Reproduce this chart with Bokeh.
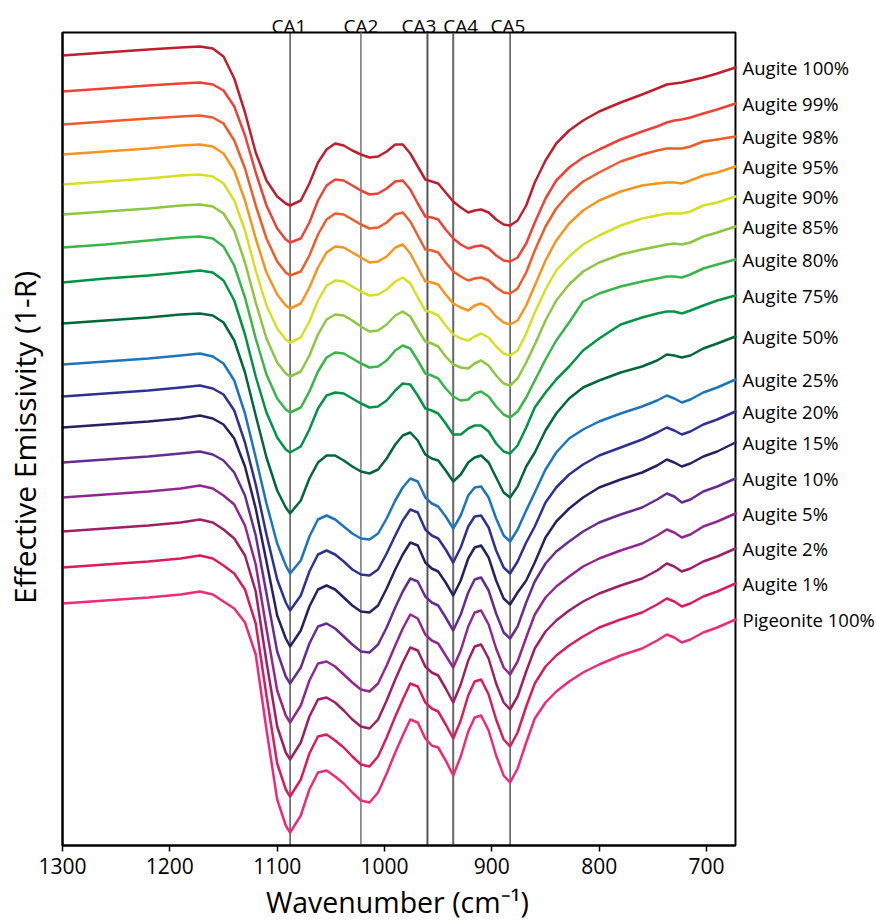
import math
from bokeh.plotting import figure
from bokeh.models import Range1d, FixedTicker, ColumnDataSource
from bokeh.core.properties import value
from bokeh.embed import file_html
from bokeh.resources import INLINE

# ---------------- data ----------------
wavenumber = [1300, 1260, 1220, 1190, 1172, 1160, 1150, 1140, 1130, 1120,
              1110, 1100, 1092, 1088, 1078, 1070, 1062, 1054, 1046, 1038,
              1030, 1022, 1014, 1006, 998, 990, 983, 976, 969, 962,
              956, 950, 943, 936, 929, 922, 916, 910, 903, 896,
              889, 883, 876, 868, 860, 850, 840, 828, 815, 800,
              780, 760, 746, 737, 730, 723, 715, 703, 690, 673]

# offset effective emissivity (arbitrary stacked units)
augite_100 = [790, 793, 796, 798, 799, 797, 789, 767, 733, 693,
              665, 649, 642, 640, 645, 662, 683, 696, 702, 700,
              695, 691, 688, 689, 694, 701, 701, 692, 679, 666,
              664, 662, 653, 644, 638, 633, 635, 636, 633, 626,
              621, 620, 625, 640, 663, 685, 702, 715, 725, 734,
              743, 751, 757, 761, 762, 763, 765, 768, 772, 778]
augite_99 = [754, 757, 760, 762, 763, 761, 755, 739, 710, 673,
             640, 617, 606, 603, 607, 623, 645, 660, 666, 665,
             660, 655, 651, 652, 657, 664, 665, 656, 642, 629,
             628, 626, 616, 607, 601, 597, 599, 600, 597, 590,
             585, 584, 588, 602, 623, 647, 665, 678, 688, 696,
             706, 714, 719, 723, 725, 726, 728, 732, 736, 742]
augite_98 = [721, 724, 727, 729, 730, 728, 722, 705, 677, 640,
             607, 584, 573, 570, 574, 590, 611, 626, 632, 631,
             626, 621, 617, 618, 623, 631, 633, 624, 610, 596,
             595, 593, 583, 574, 569, 565, 567, 568, 565, 558,
             553, 552, 557, 573, 595, 619, 637, 652, 664, 673,
             684, 691, 695, 697, 697, 697, 699, 704, 706, 709]
augite_95 = [691, 694, 697, 700, 701, 699, 692, 675, 645, 607,
             573, 551, 540, 537, 542, 558, 578, 593, 599, 598,
             593, 588, 583, 584, 589, 598, 601, 592, 578, 564,
             563, 561, 551, 542, 538, 535, 540, 542, 538, 529,
             523, 521, 525, 540, 560, 585, 605, 622, 635, 645,
             654, 660, 662, 663, 663, 662, 665, 670, 673, 679]
augite_90 = [661, 664, 667, 670, 671, 669, 662, 645, 615, 575,
             540, 517, 506, 503, 508, 524, 545, 560, 565, 564,
             559, 554, 550, 551, 556, 564, 568, 562, 548, 535,
             533, 530, 520, 511, 507, 505, 509, 512, 508, 499,
             492, 490, 495, 512, 533, 556, 575, 589, 601, 610,
             620, 627, 630, 632, 632, 632, 634, 640, 643, 649]
augite_85 = [631, 634, 637, 640, 641, 639, 632, 615, 583, 543,
             507, 483, 472, 469, 474, 490, 511, 526, 531, 530,
             525, 519, 514, 515, 521, 530, 534, 529, 516, 504,
             502, 499, 489, 481, 478, 477, 482, 485, 480, 470,
             462, 460, 467, 483, 501, 525, 545, 561, 574, 583,
             591, 596, 599, 601, 602, 601, 603, 609, 613, 619]
augite_80 = [598, 601, 605, 608, 609, 607, 599, 580, 548, 507,
             471, 447, 436, 433, 438, 454, 474, 488, 493, 492,
             487, 482, 478, 479, 485, 495, 500, 497, 485, 472,
             470, 467, 457, 449, 445, 446, 452, 454, 449, 439,
             431, 428, 434, 448, 465, 486, 505, 523, 544, 552,
             559, 564, 567, 569, 569, 568, 571, 577, 581, 586]
augite_75 = [563, 567, 570, 573, 575, 573, 565, 545, 511, 469,
             433, 408, 396, 393, 399, 416, 437, 450, 453, 452,
             447, 442, 438, 439, 445, 455, 462, 461, 450, 437,
             435, 432, 422, 411, 411, 417, 420, 420, 414, 402,
             394, 392, 400, 418, 438, 453, 466, 479, 495, 507,
             521, 528, 532, 534, 534, 532, 535, 540, 545, 550]
augite_50 = [522, 525, 528, 531, 532, 530, 523, 505, 473, 430,
             388, 355, 338, 332, 345, 367, 383, 390, 390, 385,
             379, 374, 372, 376, 387, 401, 410, 413, 405, 391,
             387, 385, 375, 364, 371, 383, 388, 390, 383, 368,
             353, 348, 359, 379, 393, 415, 432, 447, 458, 465,
             473, 479, 485, 491, 490, 488, 490, 497, 502, 509]
augite_25 = [481, 484, 487, 490, 492, 489, 482, 465, 432, 388,
             342, 302, 280, 272, 285, 309, 326, 330, 326, 319,
             312, 307, 306, 312, 327, 345, 358, 367, 364, 348,
             342, 339, 329, 317, 330, 350, 358, 359, 348, 327,
             310, 304, 316, 335, 353, 376, 393, 407, 416, 424,
             432, 439, 445, 450, 447, 443, 446, 453, 458, 466]
augite_20 = [449, 452, 455, 458, 460, 457, 451, 435, 403, 361,
             311, 266, 243, 235, 250, 274, 291, 295, 291, 284,
             276, 271, 270, 276, 292, 310, 325, 336, 333, 316,
             310, 307, 296, 283, 298, 319, 329, 330, 318, 295,
             278, 272, 284, 303, 319, 343, 358, 371, 381, 390,
             398, 406, 413, 418, 415, 411, 414, 421, 426, 434]
augite_15 = [418, 421, 424, 427, 430, 427, 421, 407, 379, 337,
             284, 230, 207, 199, 215, 239, 256, 260, 256, 248,
             240, 234, 233, 240, 257, 276, 291, 303, 300, 283,
             277, 274, 263, 250, 265, 287, 298, 300, 288, 265,
             247, 241, 253, 265, 283, 308, 324, 337, 348, 358,
             366, 373, 380, 386, 383, 379, 382, 389, 394, 403]
augite_10 = [383, 386, 389, 392, 394, 391, 385, 373, 350, 310,
             252, 194, 169, 162, 178, 202, 219, 222, 217, 209,
             201, 194, 193, 201, 218, 238, 254, 267, 264, 249,
             243, 240, 228, 215, 231, 253, 266, 268, 255, 232,
             213, 207, 219, 243, 264, 282, 294, 304, 314, 323,
             331, 338, 346, 352, 349, 343, 346, 354, 359, 367]
augite_5 = [348, 351, 354, 357, 360, 357, 350, 341, 320, 281,
            217, 155, 130, 123, 140, 165, 182, 184, 179, 171,
            163, 156, 154, 162, 180, 200, 217, 231, 227, 211,
            205, 202, 190, 178, 195, 219, 233, 235, 221, 197,
            178, 171, 184, 208, 231, 248, 259, 269, 279, 287,
            295, 302, 310, 316, 313, 308, 311, 319, 324, 332]
augite_2 = [314, 317, 320, 323, 326, 323, 316, 307, 290, 254,
            184, 119, 93, 86, 103, 129, 146, 148, 143, 135,
            126, 119, 117, 126, 145, 166, 183, 198, 195, 179,
            173, 170, 157, 143, 161, 185, 199, 201, 187, 162,
            143, 136, 149, 174, 197, 214, 225, 235, 244, 252,
            260, 267, 275, 282, 279, 274, 277, 284, 289, 297]
augite_1 = [278, 281, 284, 287, 290, 287, 280, 272, 256, 222,
            150, 82, 56, 49, 66, 92, 109, 111, 105, 98,
            89, 81, 79, 89, 108, 129, 146, 162, 159, 143,
            137, 134, 121, 107, 125, 150, 164, 166, 151, 126,
            106, 99, 113, 139, 162, 179, 190, 200, 209, 218,
            226, 233, 241, 247, 244, 239, 242, 249, 254, 262]
pigeonite_100 = [242, 245, 248, 251, 254, 251, 244, 237, 223, 191,
                 116, 46, 20, 13, 30, 56, 73, 75, 69, 62,
                 53, 45, 43, 53, 72, 93, 110, 126, 123, 107,
                 100, 98, 85, 70, 89, 114, 128, 130, 115, 90,
                 70, 63, 77, 103, 127, 143, 154, 164, 173, 181,
                 190, 197, 205, 211, 208, 203, 206, 213, 218, 226]

series_names = ["Augite 100%", "Augite 99%", "Augite 98%", "Augite 95%",
                "Augite 90%", "Augite 85%", "Augite 80%", "Augite 75%",
                "Augite 50%", "Augite 25%", "Augite 20%", "Augite 15%",
                "Augite 10%", "Augite 5%", "Augite 2%", "Augite 1%",
                "Pigeonite 100%"]
series_values = [augite_100, augite_99, augite_98, augite_95, augite_90,
                 augite_85, augite_80, augite_75, augite_50, augite_25,
                 augite_20, augite_15, augite_10, augite_5, augite_2,
                 augite_1, pigeonite_100]
series_colors = ["#BE1E2D", "#EF4136", "#F15A29", "#F7941D", "#D7DF23",
                 "#8DC63F", "#39B54A", "#009444", "#006838", "#1C75BC",
                 "#2E3192", "#262262", "#662D91", "#92278F", "#9E1F63",
                 "#DA1C5C", "#EE2A7B"]

ca_names = ["CA1", "CA2", "CA3", "CA4", "CA5"]
ca_positions = [1088, 1022, 960, 936, 883]
ca_label_positions = [1089, 1022, 968, 929, 885]
ca_colors = ["#000000", "#777777", "#555555", "#666666", "#000000"]
ca_widths = [1, 1.5, 2, 2, 1]

x_ticks = [1300, 1200, 1100, 1000, 900, 800, 700]
x_title = "Wavenumber (cm\u207b\u00b9)"
y_title = "Effective Emissivity (1-R)"

# plotted extent of the spectra box
x_start, x_end = 1300, 673
y_bottom, y_top = 0, 813

# ---------------- figure ----------------
# The frame covers the whole canvas so that every label can be drawn as a
# text glyph; the axes sit at fixed locations on the edges of the box.
p = figure(width=876, height=921,
           x_range=Range1d(1357.8, 541.6), y_range=Range1d(-76, 845),
           output_backend="svg", toolbar_location=None,
           min_border_left=0, min_border_right=0,
           min_border_top=0, min_border_bottom=0,
           background_fill_color="white", border_fill_color="white")

p.xgrid.visible = False
p.ygrid.visible = False
p.outline_line_color = None

# x axis, drawn along the bottom of the box
p.xaxis.fixed_location = y_bottom
p.xaxis.bounds = (x_end, x_start)
p.xaxis.ticker = FixedTicker(ticks=x_ticks)
p.xaxis.minor_tick_line_color = None
p.xaxis.major_tick_in = 0
p.xaxis.major_tick_out = 6
p.xaxis.major_tick_line_color = "black"
p.xaxis.major_tick_line_width = 1.5
p.xaxis.axis_line_width = 2
p.xaxis.major_label_standoff = 6
p.xaxis.major_label_text_font = "Liberation Sans Narrow, Open Sans"
p.xaxis.major_label_text_font_size = "21px"
p.xaxis.major_label_text_color = "black"

# y axis (no ticks), drawn along the left of the box
p.yaxis.fixed_location = x_start
p.yaxis.bounds = (y_bottom, y_top)
p.yaxis.ticker = FixedTicker(ticks=[])
p.yaxis.minor_tick_line_color = None
p.yaxis.major_tick_line_color = None
p.yaxis.major_tick_out = 0
p.yaxis.major_tick_in = 0
p.yaxis.major_label_standoff = 0
p.yaxis.axis_line_width = 2

# box round the spectra
p.quad(left=[x_end], right=[x_start], bottom=[y_bottom], top=[y_top],
       fill_color=None, line_color="black", line_width=2)

# component-analysis reference lines
ca_src = ColumnDataSource(dict(x=ca_positions, y0=[y_bottom] * 5,
                               y1=[y_top] * 5, color=ca_colors,
                               width=ca_widths))
p.segment(x0="x", y0="y0", x1="x", y1="y1", line_color="color",
          line_width="width", source=ca_src)

# spectra
for vals, col in zip(series_values, series_colors):
    p.line(wavenumber, vals, line_color=col, line_width=2.5,
           line_join="round", line_cap="round")

# CA labels above the box
p.text(x=ca_label_positions, y=[y_top + 7] * 5, text=ca_names,
       text_align="center", text_baseline="middle",
       text_font=value("Open Sans"), text_font_size="19px",
       text_color="black")

# series labels to the right of the box, at each spectrum's end value
p.text(x=[666.4] * len(series_names), y=[v[-1] for v in series_values],
       text=series_names, text_align="left", text_baseline="middle",
       text_font=value("Open Sans"), text_font_size="18.5px",
       text_color="black")

# axis titles
p.text(x=[988], y=[-56], text=[x_title], text_align="center",
       text_baseline="middle", text_font=value("Open Sans"),
       text_font_size="28.5px", text_color="black")
p.text(x=[1335], y=[408], text=[y_title], angle=math.pi / 2,
       text_align="center", text_baseline="middle",
       text_font=value("Open Sans"), text_font_size="30px",
       text_color="black")

open("out.html", "w").write(file_html(p, INLINE))
